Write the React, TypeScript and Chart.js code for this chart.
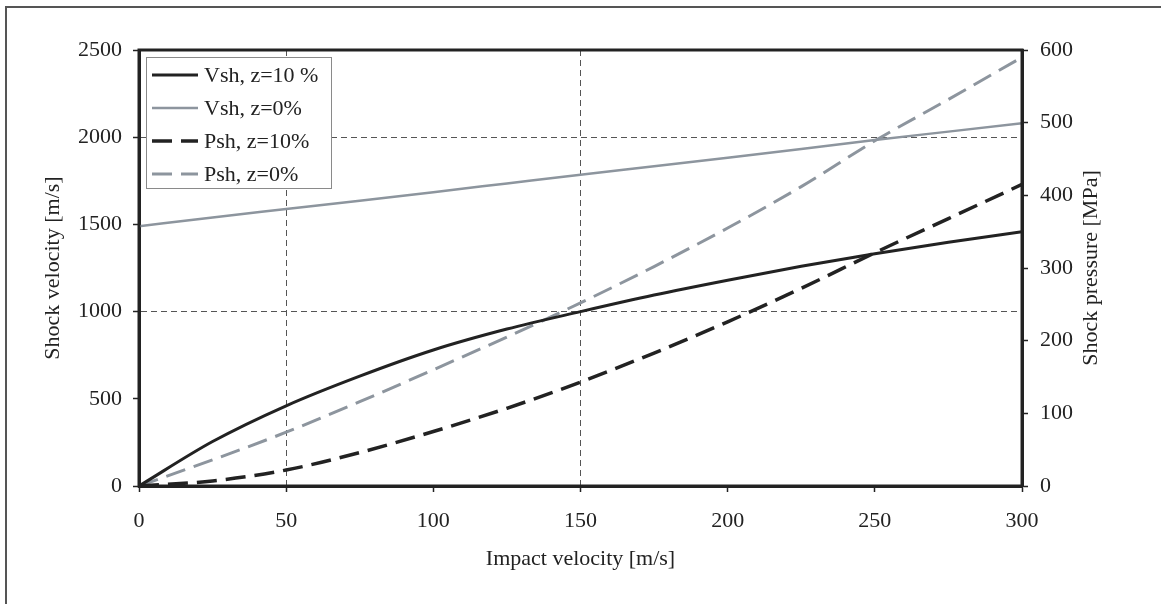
import React, { useEffect, useRef } from "react";
import { Chart, registerables } from "chart.js";

Chart.register(...registerables);

// Impact velocity [m/s]
const impactVelocity = [0, 25, 50, 75, 100, 125, 150, 175, 200, 225, 250, 275, 300];
// Shock velocity [m/s]
const vshZ10 = [0, 255, 460, 630, 780, 900, 1000, 1095, 1180, 1260, 1332, 1398, 1458];
const vshZ0 = [1490, 1540, 1588, 1636, 1685, 1735, 1785, 1833, 1882, 1932, 1984, 2032, 2080];
// Shock pressure [MPa]
const pshZ10 = [0, 7, 22, 46, 75, 107, 143, 183, 226, 272, 321, 368, 415];
const pshZ0 = [0, 36, 74, 116, 160, 205, 252, 302, 355, 412, 475, 532, 590];

const seriesLabels = ["Vsh, z=10 %", "Vsh, z=0%", "Psh, z=10%", "Psh, z=0%"];
const xGridValues = [50, 150];
const yGridValues = [1000, 2000];
const rightTitle = "Shock pressure [MPa]";

const FONT = "'Liberation Serif', 'Times New Roman', serif";
const INK = "#222222";
const GRAY = "#8d959e";

const pts = (ys: number[]) => impactVelocity.map((x, i) => ({ x, y: ys[i] }));

const frameAndLegend = {
  id: "frameAndLegend",
  afterDraw(chart: any) {
    const { ctx, chartArea } = chart;
    ctx.save();
    // plot frame
    ctx.strokeStyle = INK;
    ctx.lineWidth = 3;
    ctx.setLineDash([]);
    ctx.strokeRect(chartArea.left, chartArea.top, chartArea.right - chartArea.left, chartArea.bottom - chartArea.top);
    // right axis title, reading bottom-to-top
    const r = chart.scales.y1;
    ctx.save();
    ctx.translate(r.right - 70, (chartArea.top + chartArea.bottom) / 2);
    ctx.rotate(-Math.PI / 2);
    ctx.font = `22px ${FONT}`;
    ctx.fillStyle = INK;
    ctx.textAlign = "center";
    ctx.textBaseline = "middle";
    ctx.fillText(rightTitle, 0, 0);
    ctx.restore();
    // legend
    const bx = chartArea.left + 7;
    const by = chartArea.top + 7;
    const bw = 185;
    const bh = 131;
    ctx.fillStyle = "#ffffff";
    ctx.fillRect(bx, by, bw, bh);
    ctx.strokeStyle = "#8a8a8a";
    ctx.lineWidth = 1;
    ctx.strokeRect(bx + 0.5, by + 0.5, bw, bh);
    ctx.font = `22px ${FONT}`;
    ctx.textBaseline = "middle";
    ctx.textAlign = "left";
    chart.data.datasets.forEach((ds: any, i: number) => {
      const y = by + 18 + i * 33;
      ctx.strokeStyle = ds.borderColor;
      ctx.lineWidth = ds.borderWidth;
      ctx.setLineDash(ds.borderDash || []);
      ctx.beginPath();
      ctx.moveTo(bx + 6, y);
      ctx.lineTo(bx + 52, y);
      ctx.stroke();
      ctx.setLineDash([]);
      ctx.fillStyle = INK;
      ctx.fillText(ds.label, bx + 58, y + 1);
    });
    ctx.restore();
  },
};

const plain = (v: any) => String(v);

export default function App() {
  const ref = useRef<HTMLCanvasElement | null>(null);

  useEffect(() => {
    if (!ref.current) return;
    Chart.defaults.font.family = FONT;
    Chart.defaults.font.size = 22;
    Chart.defaults.color = INK;

    const chart = new Chart(ref.current, {
      type: "line",
      data: {
        datasets: [
          {
            label: seriesLabels[0],
            data: pts(vshZ10),
            yAxisID: "y",
            borderColor: INK,
            borderWidth: 3,
            pointRadius: 0,
            cubicInterpolationMode: "monotone",
          },
          {
            label: seriesLabels[1],
            data: pts(vshZ0),
            yAxisID: "y",
            borderColor: GRAY,
            borderWidth: 2.5,
            pointRadius: 0,
            cubicInterpolationMode: "monotone",
          },
          {
            label: seriesLabels[2],
            data: pts(pshZ10),
            yAxisID: "y1",
            borderColor: INK,
            borderWidth: 3.5,
            borderDash: [20, 9],
            pointRadius: 0,
            cubicInterpolationMode: "monotone",
          },
          {
            label: seriesLabels[3],
            data: pts(pshZ0),
            yAxisID: "y1",
            borderColor: GRAY,
            borderWidth: 3,
            borderDash: [20, 9],
            pointRadius: 0,
            cubicInterpolationMode: "monotone",
          },
        ],
      },
      options: {
        animation: false,
        responsive: false,
        maintainAspectRatio: false,
        layout: { padding: { top: 50, left: 0, right: 0, bottom: 0 } },
        plugins: {
          legend: { display: false },
          tooltip: { enabled: false },
        },
        scales: {
          x: {
            type: "linear",
            min: 0,
            max: 300,
            ticks: { stepSize: 50, padding: 16, color: INK, font: { size: 22 }, callback: plain },
            grid: {
              color: (c: any) => (c.tick && xGridValues.includes(c.tick.value) ? "#555555" : "rgba(0,0,0,0)"),
              lineWidth: 1,
              tickColor: INK,
              tickLength: 6,
              tickWidth: 1.5,
            },
            border: { display: true, color: INK, width: 3, dash: [6, 4] },
            title: {
              display: true,
              text: "Impact velocity [m/s]",
              color: INK,
              font: { size: 22 },
              padding: { top: 0, bottom: 32 },
            },
            afterFit: (s: any) => {
              s.height = 118;
            },
          },
          y: {
            type: "linear",
            position: "left",
            min: 0,
            max: 2500,
            ticks: { stepSize: 500, padding: 11, color: INK, font: { size: 22 }, callback: plain },
            grid: {
              color: (c: any) => (c.tick && yGridValues.includes(c.tick.value) ? "#555555" : "rgba(0,0,0,0)"),
              lineWidth: 1,
              tickColor: INK,
              tickLength: 6,
              tickWidth: 1.5,
            },
            border: { display: true, color: INK, width: 3, dash: [6, 4] },
            title: {
              display: true,
              text: "Shock velocity [m/s]",
              color: INK,
              font: { size: 22 },
              padding: { top: 40, bottom: 0 },
            },
            afterFit: (s: any) => {
              s.width = 139;
            },
          },
          y1: {
            type: "linear",
            position: "right",
            min: 0,
            max: 600,
            ticks: { stepSize: 100, padding: 12, color: INK, font: { size: 22 }, callback: plain },
            grid: {
              drawOnChartArea: false,
              tickColor: INK,
              tickLength: 6,
              tickWidth: 1.5,
            },
            border: { display: true, color: INK, width: 3 },
            title: { display: false },
            afterFit: (s: any) => {
              s.width = 139;
            },
          },
        },
      },
      plugins: [frameAndLegend],
    });
    return () => chart.destroy();
  }, []);

  return (
    <div
      style={{
        position: "fixed",
        left: 0,
        top: 0,
        width: 1161,
        height: 604,
        overflow: "hidden",
        background: "#ffffff",
      }}
    >
      <div
        style={{
          position: "absolute",
          left: 5,
          top: 6,
          width: 1300,
          height: 800,
          border: "2px solid #555555",
        }}
      />
      <canvas
        ref={ref}
        width={1161}
        height={604}
        style={{ position: "absolute", left: 0, top: 0, width: 1161, height: 604 }}
      />
    </div>
  );
}
